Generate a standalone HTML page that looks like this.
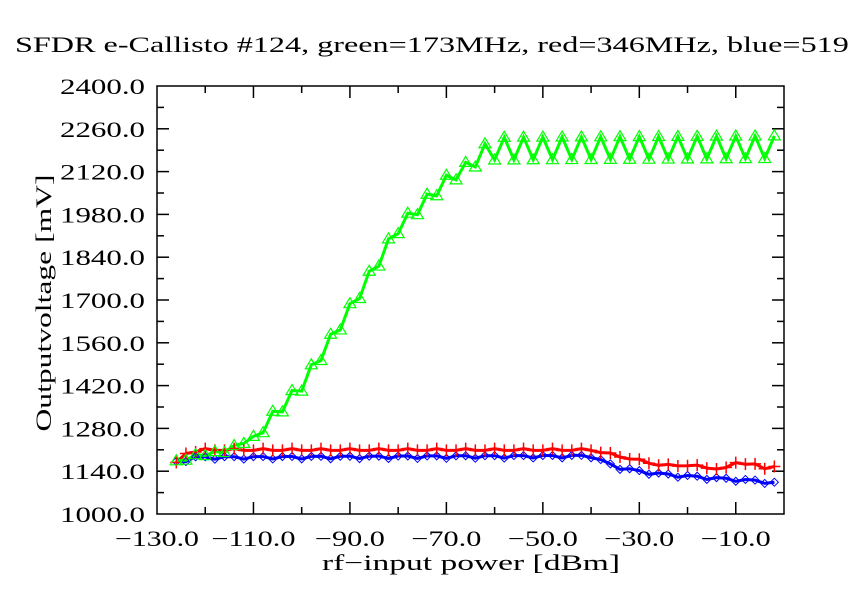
<!DOCTYPE html>
<html><head><meta charset="utf-8"><style>
html,body{margin:0;padding:0;background:#fff;}
svg{display:block;font-family:"Liberation Serif",serif;}
</style></head><body>
<svg id="s" width="848" height="600" xmlns="http://www.w3.org/2000/svg">
<rect width="848" height="600" fill="#fff"/>
<text x="15" y="52" font-size="22" fill="#000" textLength="900" lengthAdjust="spacingAndGlyphs">SFDR e-Callisto #124, green=173MHz, red=346MHz, blue=519MHz</text>
<text transform="translate(51,303) rotate(-90)" text-anchor="middle" font-size="22" fill="#000" textLength="257" lengthAdjust="spacingAndGlyphs">Outputvoltage [mV]</text>
<text x="322" y="570" font-size="22" fill="#000" textLength="298" lengthAdjust="spacingAndGlyphs">rf−input power [dBm]</text>
<g id="ax"></g>
<g id="d"></g>
</svg>
<script>
var L=157,R=784,T=86,B=514;
function X(v){return L+(v+130)*(R-L)/130;}
function Y(v){return B-(v-1000)*(B-T)/1400;}
var ns="http://www.w3.org/2000/svg",ax=document.getElementById('ax'),d=document.getElementById('d');
function el(p,t,a,txt){var e=document.createElementNS(ns,t);for(var k in a)e.setAttribute(k,a[k]);if(txt)e.textContent=txt;p.appendChild(e);return e;}
el(ax,'rect',{x:L,y:T,width:R-L,height:B-T,fill:'none',stroke:'#000','stroke-width':1.5});
for(var v=-130;v<=0;v+=10){var x=X(v),m=(v%20==10||v%20==-10);var len=m?12:7;
 if(v!=-130&&v!=0){el(ax,'line',{x1:x,y1:B,x2:x,y2:B-len,stroke:'#000','stroke-width':1.5});el(ax,'line',{x1:x,y1:T,x2:x,y2:T+len,stroke:'#000','stroke-width':1.5});}
 if(m||v==-130){var s='−'+Math.abs(v).toFixed(1);var w=s.length==6?84:70;el(ax,'text',{x:x-w/2,y:B+32,'font-size':22,textLength:w,lengthAdjust:'spacingAndGlyphs'},s);}}
for(var v=1000;v<=2400;v+=70){var y=Y(v),m=(v-1000)%140==0;var len=m?12:7;
 if(v!=1000&&v!=2400){el(ax,'line',{x1:L,y1:y,x2:L+len,y2:y,stroke:'#000','stroke-width':1.5});el(ax,'line',{x1:R,y1:y,x2:R-len,y2:y,stroke:'#000','stroke-width':1.5});}
 if(m)el(ax,'text',{x:60,y:y+8,'font-size':22,textLength:85,lengthAdjust:'spacingAndGlyphs'},v.toFixed(1));}
var xs=[];for(var v=-126;v<=-1.5;v+=2)xs.push(v);
function interp(pts,x){for(var i=0;i<pts.length-1;i++){if(x<=pts[i+1][0]){var t=(x-pts[i][0])/(pts[i+1][0]-pts[i][0]);return pts[i][1]+t*(pts[i+1][1]-pts[i][1]);}}return pts[pts.length-1][1];}
var gP=[[-126,1170],[-122,1190],[-116,1205],[-110,1250],[-100,1420],[-90,1670],[-80,1935],[-70,2090],[-60,2195],[0,2200]];
var green=xs.map(function(x,i){var b=interp(gP,x);var a=x>-64?37:(x>-110?18:4);return b+(i%2?-a:a);});
var redP=[[-126,1165],[-124,1200],[-120,1210],[-40,1210],[-35,1192],[-30,1175],[-25,1158],[-20,1160],[-15,1150],[-12,1148],[-10,1170],[-6,1160],[-3,1145],[-1,1170]];
var bluP=[[-126,1170],[-122,1185],[-40,1190],[-35,1155],[-30,1140],[-25,1130],[-15,1118],[-5,1108],[-1,1100]];
var red=xs.map(function(x,i){return interp(redP,x)+(i%3==0?4:-2);});
var blu=xs.map(function(x,i){return interp(bluP,x)+(i%3==1?-6:2);});
function line(vals,c){var p=xs.map(function(x,i){return X(x).toFixed(1)+','+Y(vals[i]).toFixed(1);}).join(' ');el(d,'polyline',{points:p,fill:'none',stroke:c,'stroke-width':3});}
line(blu,'#0000ff');line(red,'#ff0000');line(green,'#00ff00');
xs.forEach(function(x,i){var px=X(x),py;
 py=Y(blu[i]);el(d,'path',{d:'M'+px+','+(py-4)+'l4,4l-4,4l-4,-4z',fill:'none',stroke:'#0000ff','stroke-width':1});
 py=Y(red[i]);el(d,'path',{d:'M'+(px-6)+','+py+'h12M'+px+','+(py-6)+'v12',stroke:'#ff0000','stroke-width':1.5});
 py=Y(green[i]);el(d,'path',{d:'M'+px+','+(py-6)+'l6,10h-12z',fill:'none',stroke:'#00ff00','stroke-width':1.2});});
</script>
</body></html>
